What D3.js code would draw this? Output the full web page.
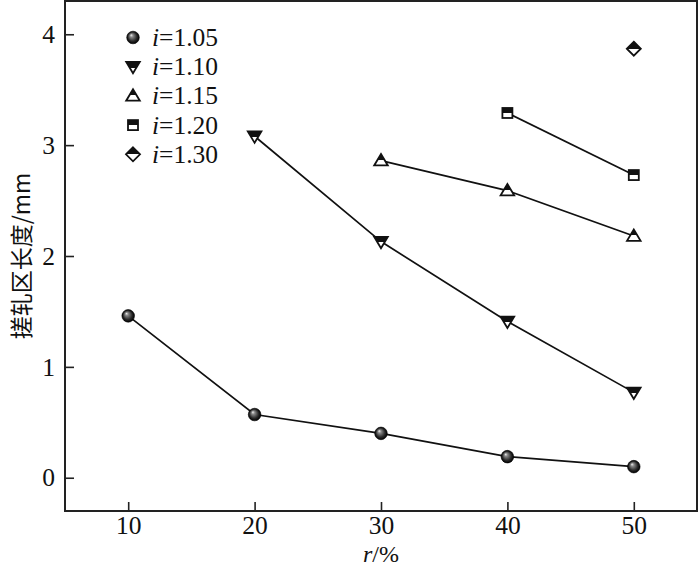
<!DOCTYPE html>
<html>
<head>
<meta charset="utf-8">
<script src="https://cdn.jsdelivr.net/npm/d3@7"></script>
<style>
  body { margin: 0; background: #fff; }
  svg text { font-family: "Liberation Serif", "DejaVu Serif", serif; fill: #111; }
</style>
</head>
<body>
<div id="chart"></div>
<script>
// Data
const seriesNames = ["1.05", "1.10", "1.15", "1.20", "1.30"];
const rValues105 = [10, 20, 30, 40, 50];
const len105 = [1.46, 0.57, 0.40, 0.19, 0.10];
const rValues110 = [20, 30, 40, 50];
const len110 = [3.08, 2.13, 1.41, 0.77];
const rValues115 = [30, 40, 50];
const len115 = [2.86, 2.59, 2.18];
const rValues120 = [40, 50];
const len120 = [3.29, 2.73];
const rValues130 = [50];
const len130 = [3.87];
const xTicks = [10, 20, 30, 40, 50];
const yTicks = [0, 1, 2, 3, 4];

const series = [
  { name: seriesNames[0], shape: "ball", xs: rValues105, ys: len105 },
  { name: seriesNames[1], shape: "down", xs: rValues110, ys: len110 },
  { name: seriesNames[2], shape: "up", xs: rValues115, ys: len115 },
  { name: seriesNames[3], shape: "square", xs: rValues120, ys: len120 },
  { name: seriesNames[4], shape: "diamond", xs: rValues130, ys: len130 }
];

// Dimensions
const W = 700, H = 567;
const margin = { top: 1, right: 3, bottom: 56, left: 65 },
      width = W - margin.left - margin.right,
      height = H - margin.top - margin.bottom;

const serif = "'Liberation Serif', 'DejaVu Serif', serif";
const fontSize = "25.5px";

const svg = d3.select("#chart").append("svg")
    .attr("width", W)
    .attr("height", H);

// Gradients: half-filled markers and shaded ball
const defs = svg.append("defs");
const half = defs.append("linearGradient")
    .attr("id", "half")
    .attr("x1", 0).attr("y1", 0).attr("x2", 0).attr("y2", 1);
half.append("stop").attr("offset", "0.5").attr("stop-color", "#111");
half.append("stop").attr("offset", "0.5").attr("stop-color", "#fff");

const ball = defs.append("radialGradient")
    .attr("id", "ball")
    .attr("cx", "0.5").attr("cy", "0.5").attr("r", "0.5")
    .attr("fx", "0.35").attr("fy", "0.3");
ball.append("stop").attr("offset", "0").attr("stop-color", "#f4f4f4");
ball.append("stop").attr("offset", "0.25").attr("stop-color", "#8a8a8a");
ball.append("stop").attr("offset", "0.7").attr("stop-color", "#2a2a2a");
ball.append("stop").attr("offset", "1").attr("stop-color", "#000");

const g = svg.append("g")
    .attr("transform", `translate(${margin.left},${margin.top})`);

// Scales
const x = d3.scaleLinear().domain([5, 55]).range([0, width]);
const y = d3.scaleLinear().domain([-0.3, 4.3]).range([height, 0]);

// Axes with inward ticks
const xAxis = g.append("g")
    .attr("transform", `translate(0,${height})`)
    .call(d3.axisBottom(x).tickValues(xTicks).tickFormat(d3.format("d"))
      .tickSizeInner(-9).tickSizeOuter(0).tickPadding(5));
const yAxis = g.append("g")
    .call(d3.axisLeft(y).tickValues(yTicks).tickFormat(d3.format("d"))
      .tickSizeInner(-9).tickSizeOuter(0).tickPadding(10));
[xAxis, yAxis].forEach(a => {
  a.attr("font-family", null).attr("font-size", null);
  a.select(".domain").remove();
  a.selectAll("line").attr("stroke", "#222").attr("stroke-width", 1.6);
  a.selectAll("text").style("font-size", fontSize).style("font-family", serif);
});

// Frame
g.append("rect")
    .attr("width", width)
    .attr("height", height)
    .attr("fill", "none")
    .attr("stroke", "#222")
    .attr("stroke-width", 2);

// Marker drawing
function drawMarker(sel, shape) {
  if (shape === "ball") {
    sel.append("circle").attr("r", 6.3).attr("fill", "url(#ball)")
       .attr("stroke", "#000").attr("stroke-width", 0.6);
  } else if (shape === "down") {
    sel.append("path").attr("d", "M-6.8,-4.8 L6.8,-4.8 L0,6.6 Z")
       .attr("fill", "url(#half)").attr("stroke", "#111").attr("stroke-width", 1.8);
  } else if (shape === "up") {
    sel.append("path").attr("d", "M-6.8,4.8 L6.8,4.8 L0,-6.6 Z")
       .attr("fill", "url(#half)").attr("stroke", "#111").attr("stroke-width", 1.8);
  } else if (shape === "square") {
    sel.append("rect").attr("x", -5).attr("y", -5).attr("width", 10).attr("height", 10)
       .attr("fill", "url(#half)").attr("stroke", "#111").attr("stroke-width", 1.8);
  } else if (shape === "diamond") {
    sel.append("path").attr("d", "M0,-7 L7,0 L0,7 L-7,0 Z")
       .attr("fill", "url(#half)").attr("stroke", "#111").attr("stroke-width", 1.8);
  }
}

const line = d3.line().x(d => x(d[0])).y(d => y(d[1]));

series.forEach(s => {
  const pts = s.xs.map((v, i) => [v, s.ys[i]]);
  if (pts.length > 1) {
    g.append("path")
        .datum(pts)
        .attr("d", line)
        .attr("fill", "none")
        .attr("stroke", "#111")
        .attr("stroke-width", 1.7);
  }
  pts.forEach(p => {
    const m = g.append("g").attr("transform", `translate(${x(p[0])},${y(p[1])})`);
    drawMarker(m, s.shape);
  });
});

// Legend
const legend = g.append("g").attr("transform", "translate(68,36.5)");
series.forEach((s, i) => {
  const row = legend.append("g").attr("transform", `translate(0,${i * 29.2})`);
  drawMarker(row.append("g"), s.shape);
  const t = row.append("text")
      .attr("x", 19)
      .attr("y", 8.5)
      .style("font-size", fontSize)
      .style("font-family", serif);
  t.append("tspan").attr("font-style", "italic").text("i");
  t.append("tspan").text("=" + s.name);
});

// Axis labels
const xl = svg.append("text")
    .attr("text-anchor", "middle")
    .attr("x", margin.left + x(30))
    .attr("y", 562)
    .style("font-size", "24px")
    .style("font-family", serif);
xl.append("tspan").attr("font-style", "italic").text("r");
xl.append("tspan").text("/%");

svg.append("text")
    .attr("text-anchor", "middle")
    .attr("transform", `translate(30,${margin.top + y(2)}) rotate(-90)`)
    .style("font-size", "23px")
    .style("font-family", "'Noto Sans CJK SC', 'Liberation Serif', serif")
    .text("搓轧区长度/mm");
</script>
</body>
</html>
